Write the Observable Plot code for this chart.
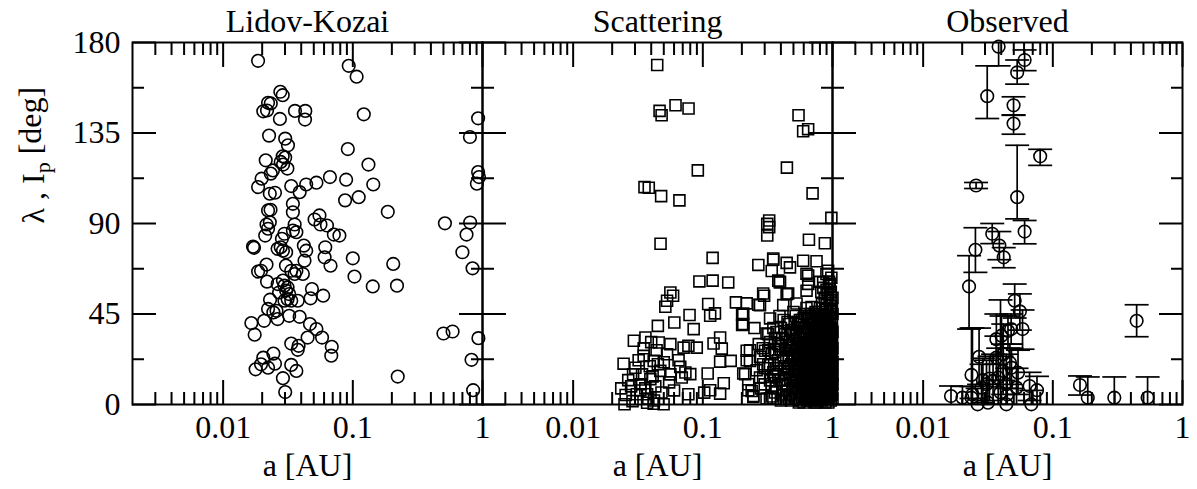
<!DOCTYPE html>
<html><head><meta charset="utf-8">
<script src="https://cdn.jsdelivr.net/npm/d3@7"></script>
<script src="https://cdn.jsdelivr.net/npm/@observablehq/plot@0.6"></script>
<style>body{margin:0;background:#fff;} svg text{font-family:"Liberation Serif","Times New Roman",serif !important;}</style>
</head><body><div id="chart"></div>
<script>
const panels = ["Lidov-Kozai", "Scattering", "Observed"];
const xTickLabels = [0.01, 0.1, 1];
const xMinorTicks = [0.003,0.004,0.005,0.006,0.007,0.008,0.009,0.02,0.03,0.04,0.05,0.06,0.07,0.08,0.09,0.2,0.3,0.4,0.5,0.6,0.7,0.8,0.9];
const yTickLabels = [0, 45, 90, 135, 180];
const yMinorTicks = [22.5, 67.5, 112.5, 157.5];
const xLabel = "a [AU]";
const yLabel = "λ , Ip [deg]";

// Lidov-Kozai: [a (AU), angle (deg)]
const lidovKozai = [[0.0186,170.9],[0.093,168.4],[0.107,163],[0.0276,155.5],[0.0288,153.8],[0.0222,150],[0.0233,149.7],[0.0204,145.8],[0.0218,146.2],[0.0274,142],[0.0358,146],[0.043,146],[0.0428,141.7],[0.1215,144.3],[0.925,142.3],[0.80,133],[0.0226,133.7],[0.0301,132.2],[0.0316,128.9],[0.0915,127],[0.0288,123.4],[0.0301,122.8],[0.0278,120.6],[0.029,119.3],[0.0313,117.3],[0.0213,121.4],[0.132,119.3],[0.0242,116.4],[0.0233,114.8],[0.0198,112.3],[0.0186,108.1],[0.0666,113.1],[0.0888,111.8],[0.1438,109.4],[0.0335,108.6],[0.0437,109.4],[0.0524,110.3],[0.0389,105.6],[0.0229,104.8],[0.0251,105.3],[0.0872,101.5],[0.111,103.1],[0.186,95.8],[0.0345,99.8],[0.0345,95.6],[0.0222,96.5],[0.0232,96.8],[0.925,115.6],[0.94,113.1],[0.905,109.8],[0.0507,92],[0.0553,94],[0.0632,89],[0.513,90.1],[0.803,90.5],
[0.0216,89.5],[0.0222,87.4],[0.0211,84],[0.0229,90.6],[0.0356,89.5],[0.0345,86.5],[0.0367,85.7],[0.0297,84.9],[0.0284,82.4],[0.0278,78.2],[0.0289,76.5],[0.0306,75.7],[0.0263,77.4],[0.017,78.5],[0.0173,77.9],[0.0563,89.5],[0.0714,84.5],[0.0788,84],[0.0419,79],[0.0437,76.5],[0.0424,71.5],[0.0613,78.2],[0.0606,73.2],[0.0673,69],[0.1,72.7],[0.103,63.6],[0.205,69.9],[0.219,59.1],[0.1425,58.7],[0.70,75.7],[0.753,84.5],[0.838,67.7],[0.0216,69.6],[0.0196,66.5],[0.0186,66.1],[0.0218,61.1],[0.0305,69.1],[0.0367,66.5],[0.0412,64.9],[0.0356,64.9],[0.0335,66.5],[0.0289,61.6],[0.0297,59.1],[0.0314,58.2],[0.0306,56.6],[0.0323,54.9],[0.0314,52.4],[0.0335,51.6],[0.0297,51.6],[0.0263,59.9],[0.027,55.7],[0.0376,51.6],[0.0484,57.4],[0.0472,52.8],[0.0591,54.1],[0.023,52.1],[0.0222,47.5],[0.0244,45.8],[0.0258,46.6],[0.0263,42.5],[0.0207,41.6],[0.0165,40.5],[0.0175,34.7],[0.0323,44.1],[0.0389,43.6],[0.0467,40],[0.0524,37.5],[0.0579,33.3],[0.0448,33.3],[0.0335,30.3],[0.0382,29.2],[0.0376,27.2],[0.0688,28.7],[0.0682,24.3],[0.50,35.3],[0.588,36.3],[0.93,33],[0.823,22.2],[0.0204,23.3],[0.0244,25.3],[0.0196,20],[0.0222,18.3],[0.0178,17.5],[0.0251,20.3],[0.0335,19.7],[0.0367,16.7],[0.0289,13.1],[0.222,13.9],[0.0301,6.2],[0.847,7.1]];

// Scattering: [a (AU), angle (deg)]
const scattering = [[0.0445,168.8],[0.0464,146],[0.0481,143.8],[0.0616,148.8],[0.0776,147.2],[0.547,143.8],[0.649,136.9],[0.594,135.9],[0.0915,116.4],[0.445,117.8],[0.0355,108.1],[0.0383,107.8],[0.0477,103.6],[0.066,101.5],[0.702,105],[0.98,92.8],[0.325,91.5],[0.314,89.8],[0.314,84],[0.325,88.2],[0.0472,79.9],[0.658,81.9],[0.873,80.2],[0.119,72.9],[0.268,69.4],[0.349,72],[0.443,70.4],[0.47,68.2],[0.594,71.5],[0.753,71.2],[0.925,66.5],[0.898,64.9],[0.953,59.1],[0.847,60.7],[0.649,64.1],[0.393,60.7],[0.382,61.6],[0.443,54.9],[0.631,56.6],[0.0941,61.2],[0.119,61.6],[0.157,60.7],[0.0562,55.7],[0.059,54.1],[0.053,51.6],[0.0514,48.6],[0.18,50.8],[0.218,50.3],[0.268,49.6],[0.297,54.1],[0.11,50],[0.124,45.3],[0.114,44.1],[0.079,44.5],[0.0603,40.8],[0.045,39.1],[0.085,37.5],[0.201,44.6],[0.201,39.5],[0.0294,31.7],[0.0361,33.3],[0.0457,30.8],[0.0562,30],[0.0711,28.3],[0.0898,28.3],[0.0774,29.2],[0.136,33.3],[0.14,27.8],[0.121,30.3],[0.0245,20.3],[0.0302,18.3],[0.035,24.2],[0.0418,21.7],[0.053,25],[0.067,18.7],[0.08,15.1],[0.109,15.4],[0.136,21.3],[0.164,21.7],[0.0266,12.1],[0.0331,10.1],[0.0394,12.6],[0.047,16.7],[0.0562,15],[0.0688,13.4],[0.0734,15.9],[0.0254,4.7],[0.0249,0.1],[0.0287,1.7],[0.031,5.1],[0.0372,0.9],[0.0418,0.4],[0.0498,0.1],[0.0372,5.1],[0.0774,5.1],[0.1025,5.9],[0.114,7.1],[0.136,5.4],[0.145,10.6],[0.218,26.7],[0.231,21.7],[0.212,15.1],[0.224,10.1],[0.245,4.2],[0.238,6.7],[0.276,13.4],[0.292,20],[0.302,26.7],[0.32,35],
[0.032,22],[0.034,15],[0.036,8],[0.039,19],[0.041,14],[0.043,9],[0.045,20],[0.038,3],[0.033,7],[0.028,9],[0.044,27],[0.05,21],[0.055,11],[0.06,7],[0.065,22],[0.035,28],[0.04,31],[0.042,2],[0.048,6],[0.029,15],[0.0235,8],
[0.349,72.6],[0.34,66.4],[0.393,61],[0.455,55.2],[0.63,65],[0.65,60],[0.80,61],[0.82,56],[0.95,60],[0.292,55.2],[0.205,45.2],[0.205,40],[0.276,49.4],[0.33,42.8],[0.417,49.4],[0.528,50.2],[0.69,48.5],[0.9,49.4],[0.31,35.3],[0.231,27],[0.218,22],[0.205,15.4],[0.224,7.1],[0.245,3.8],[0.292,13.7],[0.276,23.7],
[0.31,3],[0.33,12],[0.34,25],[0.35,38],[0.36,6],[0.37,18],[0.38,30],[0.39,44],[0.4,2],[0.41,10],[0.42,22],[0.43,35],[0.44,15],[0.45,28],[0.46,40],[0.47,5],[0.48,20],[0.49,32],[0.5,12],[0.5,46],[0.51,25],[0.52,3],[0.53,38],[0.54,17],[0.55,8],[0.56,30],[0.57,22],[0.58,42],[0.59,13],[0.6,1],[0.6,35],[0.61,26],[0.62,18],[0.63,48],[0.64,7],[0.65,31],[0.66,14],[0.67,40],[0.68,23],[0.69,2],[0.7,36],[0.7,10],[0.71,28],[0.72,19],[0.73,45],[0.74,5],[0.75,33],[0.75,15],[0.76,24],[0.77,41],[0.78,9],[0.79,30],[0.8,18],[0.8,3],[0.81,37],[0.82,12],[0.82,26],[0.83,44],[0.84,6],[0.85,21],[0.85,34],[0.86,15],[0.87,29],[0.88,1],[0.88,40],[0.89,10],[0.9,24],[0.9,47],[0.91,17],[0.92,32],[0.92,4],[0.93,12],[0.94,38],[0.94,22],[0.95,8],[0.95,28],[0.96,15],[0.96,43],[0.97,2],[0.97,33],[0.98,20],[0.98,10],[0.99,26],[0.99,37],[0.99,5],
[0.32,20],[0.36,33],[0.4,27],[0.44,4],[0.46,16],[0.52,44],[0.55,24],[0.58,5],[0.62,38],[0.64,20],[0.66,3],[0.68,12],[0.7,44],[0.72,27],[0.74,14],[0.76,7],[0.78,35],[0.8,25],[0.83,16],[0.85,3],[0.86,42],[0.87,8],[0.89,31],[0.91,36],[0.93,27],[0.95,18],[0.97,12],[0.98,30],[0.6,20],[0.65,27],[0.71,33],[0.77,19],[0.84,29],[0.9,14],[0.96,24],[0.53,11],[0.57,15],[0.63,9],[0.69,16],[0.75,1],[0.81,7],[0.88,19],[0.93,45],[0.97,49],[0.99,14],[0.45,9],[0.48,37],[0.51,18],[0.56,2],[0.61,45],[0.67,32],[0.73,37],[0.79,46],[0.83,50],[0.87,53],[0.92,55],[0.95,52],
[0.42,7],[0.43,19],[0.44,31],[0.45,41],[0.46,3],[0.47,13],[0.48,27],[0.49,8],[0.5,22],[0.5,36],[0.51,4],[0.52,16],[0.53,29],[0.54,41],[0.55,1],[0.55,33],[0.56,12],[0.57,26],[0.58,19],[0.59,35],[0.6,8],[0.6,43],[0.61,14],[0.62,3],[0.62,29],[0.63,22],[0.64,36],[0.65,11],[0.66,19],[0.66,44],[0.67,6],[0.68,28],[0.68,38],[0.69,21],[0.7,4],[0.7,15],[0.71,40],[0.72,9],[0.72,33],[0.73,24],[0.74,17],[0.74,46],[0.75,29],[0.75,6],[0.76,38],[0.76,13],[0.77,2],[0.77,27],[0.78,22],[0.78,43],[0.79,11],[0.79,16],[0.8,34],[0.8,9],[0.81,21],[0.81,44],[0.82,2],[0.82,31],[0.83,9],[0.83,23],[0.84,38],[0.84,14],[0.85,27],[0.85,10],[0.86,5],[0.86,33],[0.87,20],[0.87,45],[0.88,13],[0.88,26],[0.89,37],[0.89,4],[0.9,19],[0.9,30],[0.91,8],[0.91,42],[0.92,13],[0.92,24],[0.93,35],[0.93,1],[0.94,17],[0.94,30],[0.95,4],[0.95,40],[0.96,11],[0.96,33],[0.97,20],[0.97,26],[0.98,6],[0.98,38],[0.98,45],[0.99,9],[0.99,19],[0.99,31],[0.99,42],[1.0,3],[1.0,15],[1.0,28],[1.0,36],[0.97,7],[0.95,34],[0.93,18],[0.91,26],[0.89,15],[0.87,36],[0.85,44],[0.83,4],[0.81,29],[0.79,39],[0.77,33],[0.75,21],[0.73,12],[0.71,3],[0.69,30],[0.67,18],[0.65,42],[0.63,15],[0.61,35],[0.59,6],[0.57,40],[0.54,28],[0.52,34],[0.49,15],[0.47,29],[0.44,23],[0.41,33],[0.39,12],[0.37,8],[0.35,16],[0.33,31],[0.3,18],[0.28,8],[0.27,30],[0.26,17],[0.25,38],[0.34,4],[0.38,22],[0.42,42],[0.36,26],
[0.58,10],[0.62,24],[0.66,37],[0.7,20],[0.74,31],[0.78,15],[0.82,40],[0.86,24],[0.9,4],[0.94,10],[0.98,23],[0.6,29],[0.64,13],[0.68,6],[0.72,41],[0.76,30],[0.8,13],[0.84,20],[0.88,34],[0.92,20],[0.96,37],[0.99,47],[0.56,20],[0.64,44],[0.73,1],[0.79,24],[0.86,11],[0.93,8],[0.97,16],[0.9,39],[0.83,33],[0.77,10],[0.71,17],[0.65,4],[0.59,26],[0.53,6],[0.5,30],[0.46,24],[0.43,12],[0.4,38],[0.38,15],[0.35,3],[0.32,27],
[0.52,9],[0.54,22],[0.56,36],[0.58,28],[0.6,14],[0.61,4],[0.62,11],[0.63,30],[0.64,25],[0.65,17],[0.66,8],[0.67,24],[0.68,17],[0.69,36],[0.7,25],[0.71,9],[0.72,14],[0.73,30],[0.74,22],[0.75,10],[0.76,18],[0.77,14],[0.78,28],[0.79,6],[0.8,21],[0.81,15],[0.82,20],[0.83,28],[0.84,10],[0.85,16],[0.86,20],[0.87,13],[0.88,8],[0.89,23],[0.9,9],[0.91,21],[0.92,9],[0.93,22],[0.94,5],[0.95,13],[0.96,6],[0.97,30],[0.98,16],[0.99,22],[1.0,10],[1.0,21],[0.6,38],[0.64,29],[0.68,33],[0.72,5],[0.76,34],[0.8,29],[0.84,25],[0.88,30],[0.92,28],[0.96,19],[0.99,34],[0.55,17],[0.59,20],[0.63,4],[0.67,10],[0.71,22],[0.75,26],[0.79,20],[0.83,12],[0.87,25],[0.91,13],[0.95,24],[0.97,38],[0.94,26],[0.9,35],[0.86,38],[0.82,35],[0.78,4],[0.74,9],[0.7,30],[0.66,25],[0.62,33],[0.57,8],[0.53,19],[0.49,24],[0.47,35],[0.45,18],[0.43,27],[0.41,5],[0.39,29],[0.37,36],[0.36,14],[0.34,9],[0.33,20],[0.3,10],[0.29,28],[0.42,15],[0.48,2],[0.52,27],[0.56,42],[0.6,24],[0.64,2],[0.68,45],[0.72,38],[0.76,42],[0.8,48],[0.84,46],[0.88,48],[0.92,41],[0.96,46],[0.98,52],[1.0,45],[1.0,53],[0.9,57],[0.85,58],[0.98,63],[0.97,56],[0.94,61]];

// Observed: [a (AU), angle (deg), lower bound, upper bound]
const observed = [[0.0382,177.9,168.4,188],[0.0606,171.3,166,176.3],[0.0531,165.1,159.3,171.3],[0.0312,153.3,142.2,168.4],[0.0498,148.8,143.8,153],[0.0498,139.7,134.4,144],[0.0799,123.4,118.9,126.9],[0.0256,108.9,107.4,110.4],[0.0531,103.1,92.3,128.9],[0.0606,86,79.9,91.5],[0.0341,84.9,80,90],[0.0387,79,72,86],[0.0418,73.2,68,78],[0.0253,76.9,65.7,87.9],[0.0226,58.7,37.5,74],[0.0508,51.6,43,59.9],[0.0557,46.3,37,55],[0.0584,37.5,27.5,47],[0.0477,37.5,30,45],[0.0451,36.6,28,44],[0.0367,32.5,20,45],[0.0402,34.2,24,44],[0.443,41.6,33.7,49.6],[0.027,23.7,10,38],[0.0236,14.7,3,38],[0.0367,23.3,12,34],[0.0467,20.8,10,30],[0.0539,15.8,5,27],[0.048,18.3,8,28],[0.0414,16.7,5,30],[0.0379,13.4,0,28],[0.0346,11.7,0,25],[0.0308,10.1,0,22],[0.0282,8.4,0,20],[0.0438,10.1,0,25],[0.0525,8.4,0,18],[0.0662,9.2,2,16],[0.0755,7.1,0,14],[0.162,9.7,4.7,14.2],[0.186,3.4,-6,13.7],[0.298,3.4,-6,13.7],[0.538,3.4,-6,13.7],[0.0164,4.2,-1,9.2],[0.0201,3.4,-2,9],[0.0236,3.4,-2,9],[0.0263,0.1,-5,8],[0.0316,0.9,-5,10],[0.0438,0.1,-5,8],[0.0683,0.1,-5,7],[0.024,5,-10,38],[0.0325,12.9,2,24],[0.0289,12.1,1,23],[0.0395,6,-5,52],[0.0415,25,12,40],[0.0445,5,-4,18]];

const lkData = lidovKozai.map(([a, i]) => ({panel: panels[0], a, i}));
const scData = scattering.map(([a, i]) => ({panel: panels[1], a, i}));
const obData = observed.map(([a, i, lo, hi]) => ({panel: panels[2], a, i, lo, hi}));

const capSymbol = {draw(context) { context.moveTo(-12, 0); context.lineTo(12, 0); }};
const ink = "black";

const plot = Plot.plot({
  width: 1197,
  height: 489,
  marginLeft: 131,
  marginRight: 14,
  marginTop: 42,
  marginBottom: 85,
  style: "font-family: 'Liberation Serif', 'Times New Roman', serif; font-size: 32px; color: black; background: white;",
  fx: {domain: panels, padding: 0, axis: null},
  x: {type: "log", domain: [0.002, 1]},
  y: {domain: [0, 180]},
  marks: [
    // observed error bars
    Plot.ruleX(obData, {fx: "panel", x: "a", y1: "lo", y2: "hi", stroke: ink, strokeWidth: 1.7, clip: true}),
    Plot.dot(obData, {fx: "panel", x: "a", y: "lo", symbol: capSymbol, fill: "none", stroke: ink, strokeWidth: 1.7, clip: true}),
    Plot.dot(obData, {fx: "panel", x: "a", y: "hi", symbol: capSymbol, fill: "none", stroke: ink, strokeWidth: 1.7, clip: true}),
    Plot.dot(obData, {fx: "panel", x: "a", y: "i", r: 6.3, fill: "none", stroke: ink, strokeWidth: 1.6}),
    Plot.dot(lkData, {fx: "panel", x: "a", y: "i", r: 6.3, fill: "none", stroke: ink, strokeWidth: 1.6}),
    Plot.dot(scData, {fx: "panel", x: "a", y: "i", symbol: "square", r: 6.2, fill: "none", stroke: ink, strokeWidth: 1.6}),
    // inward ticks: bottom & top, major & minor
    Plot.axisX(xTickLabels, {anchor: "bottom", tickSize: 24, dy: -24, fill: "none", strokeWidth: 2, label: null}),
    Plot.axisX(xMinorTicks, {anchor: "bottom", tickSize: 12, dy: -12, fill: "none", strokeWidth: 2, label: null}),
    Plot.axisX(xTickLabels, {anchor: "top", tickSize: 24, dy: 24, fill: "none", strokeWidth: 2, label: null}),
    Plot.axisX(xMinorTicks, {anchor: "top", tickSize: 12, dy: 12, fill: "none", strokeWidth: 2, label: null}),
    Plot.axisY(yTickLabels, {anchor: "left", facetAnchor: null, tickSize: 24, dx: 24, fill: "none", strokeWidth: 2, label: null}),
    Plot.axisY(yMinorTicks, {anchor: "left", facetAnchor: null, tickSize: 12, dx: 12, fill: "none", strokeWidth: 2, label: null}),
    Plot.axisY(yTickLabels, {anchor: "right", facetAnchor: null, tickSize: 24, dx: -24, fill: "none", strokeWidth: 2, label: null}),
    Plot.axisY(yMinorTicks, {anchor: "right", facetAnchor: null, tickSize: 12, dx: -12, fill: "none", strokeWidth: 2, label: null}),
    // tick labels
    Plot.axisX(xTickLabels, {anchor: "bottom", tickSize: 0, tickPadding: 11, stroke: "none", fontSize: 32, label: null, tickFormat: (d) => String(d)}),
    Plot.axisY(yTickLabels, {anchor: "left", tickSize: 0, tickPadding: 12, stroke: "none", fontSize: 32, label: null, tickFormat: (d) => String(d)}),
    Plot.frame({stroke: ink, strokeWidth: 2}),
    // titles and axis titles
    Plot.text(panels, {fx: (d) => d, text: (d) => d, frameAnchor: "top", lineAnchor: "bottom", dy: -11, fontSize: 32}),
    Plot.text(panels, {fx: (d) => d, text: () => xLabel, frameAnchor: "bottom", lineAnchor: "bottom", dy: 71, fontSize: 32}),
    Plot.text([yLabel], {fx: () => panels[0], text: (d) => d, frameAnchor: "left", rotate: -90, dx: -99, fontSize: 32})
  ]
});
document.getElementById("chart").append(plot);

// render the "p" of I_p as a subscript
for (const t of plot.querySelectorAll("text")) {
  if (t.textContent === yLabel) {
    t.textContent = "";
    const ns = "http://www.w3.org/2000/svg";
    const a = document.createElementNS(ns, "tspan"); a.textContent = "λ , I";
    const b = document.createElementNS(ns, "tspan"); b.textContent = "p"; b.setAttribute("dy", "0.3em"); b.setAttribute("font-size", "22");
    const c = document.createElementNS(ns, "tspan"); c.textContent = " [deg]"; c.setAttribute("dy", "-0.3em");
    t.append(a, b, c);
  }
}
</script>
</body></html>
